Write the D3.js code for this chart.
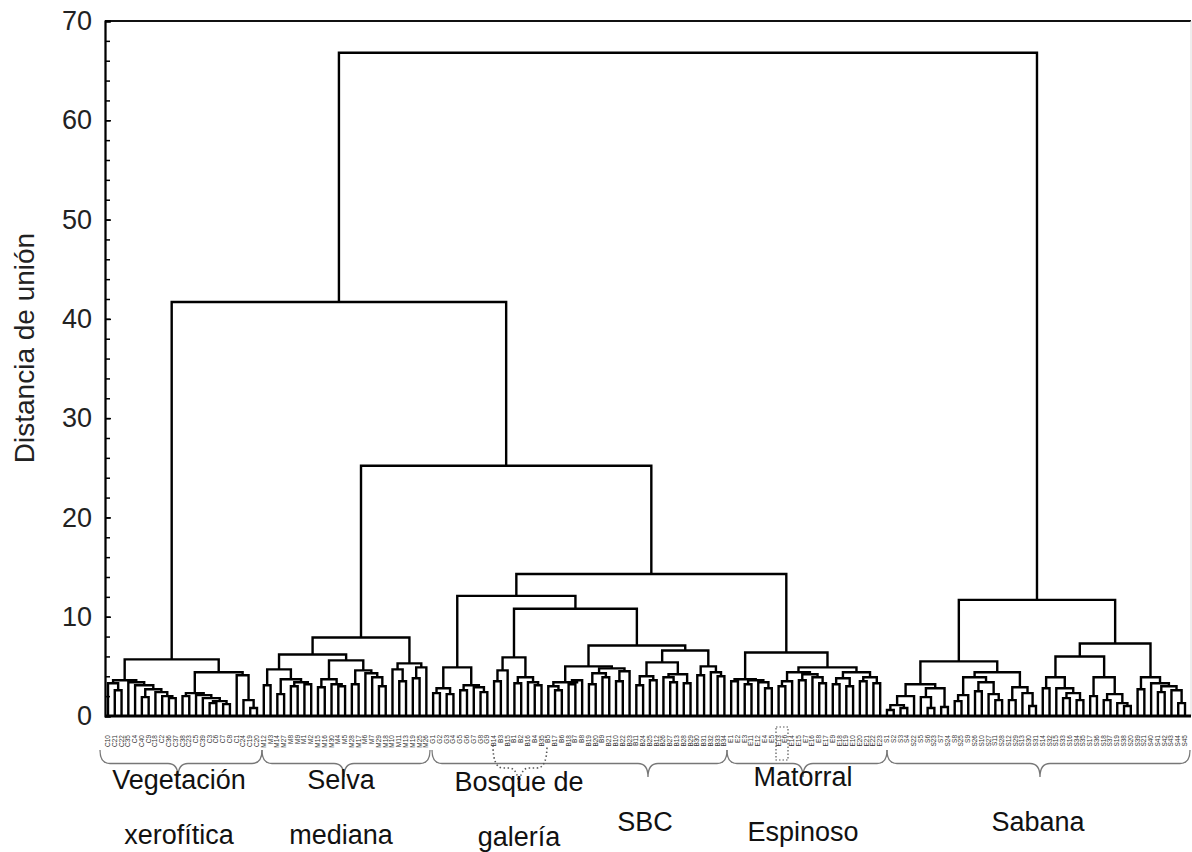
<!DOCTYPE html>
<html>
<head>
<meta charset="utf-8">
<script src="https://cdn.jsdelivr.net/npm/d3@7"></script>
<style>
  body { margin: 0; background: #fff; }
  svg { display: block; }
  text { font-family: "Liberation Sans", Arial, sans-serif; }
</style>
</head>
<body>
<svg id="chart" width="1192" height="852"></svg>
<script>
// Cluster trees: [joinDistance, left, right]; 0 marks a single site.
const vegetacionXerofitica = [5.7,
  [3.6, [3.3, 0, [2.6, 0, 0]],
        [3.4, 0, [3.1, 0, [2.7, [1.9, 0, 0], [2.4, 0, [2.0, 0, [1.8, 0, 0]]]]]]],
  [4.4, [2.3, [2.0, 0, 0], [2.1, 0, [1.8, 0, [1.5, [1.3, 0, 0], [1.2, 0, 0]]]]],
        [4.1, 0, [1.6, 0, [0.8, 0, 0]]]]];

const selvaMediana = [7.9,
  [6.2, [4.7, [3.1, 0, 0], [3.7, [2.2, 0, 0], [3.4, [3.0, 0, 0], [3.2, 0, 0]]]],
        [5.6, [3.7, [2.9, 0, 0], [3.2, 0, [3.0, 0, 0]]],
              [4.6, [3.2, 0, 0], [4.3, 0, [3.9, 0, [3.0, 0, 0]]]]]],
  [5.3, [4.7, 0, [3.5, 0, 0]], [4.9, [3.8, 0, 0], 0]]];

const bosqueGaleria = [4.9,
  [2.8, [2.3, 0, 0], [2.2, 0, 0]],
  [3.1, [2.6, 0, 0], [2.9, 0, [2.4, 0, 0]]]];

const sbcA = [5.9,
  [4.6, [3.5, 0, 0], 0],
  [3.9, [3.3, 0, 0], [3.4, 0, [3.1, 0, 0]]]];

const sbcB = [7.1,
  [5.0, [3.4, [3.0, 0, [2.6, 0, 0]], [3.6, [3.2, 0, 0], 0]],
        [4.8, [4.3, [3.2, 0, 0], [3.9, 0, 0]], [4.5, [3.5, 0, 0], 0]]],
  [6.6, [5.4, [4.0, [3.1, 0, 0], [3.6, 0, 0]], [4.2, [3.9, 0, [3.4, 0, 0]], [3.3, 0, 0]]],
        [5.0, [4.1, 0, 0], [4.4, 0, [4.0, 0, 0]]]]];

const matorralEspinoso = [6.4,
  [3.7, [3.5, 0, 0], [3.6, [3.2, 0, 0], [3.4, 0, [2.8, 0, 0]]]],
  [4.9, [4.4, [3.5, [3.0, 0, 0], 0], [4.2, [3.6, 0, 0], [3.9, 0, [3.3, 0, 0]]]],
        [4.4, [3.8, [3.2, 0, 0], [3.0, 0, 0]], [3.9, [3.5, 0, 0], [3.3, 0, 0]]]]];

const sabana = [11.7,
  [5.5, [3.2, [2.0, [1.1, [0.6, 0, 0], [0.8, 0, 0]], 0], [2.8, [1.9, 0, [0.8, 0, 0]], [0.9, 0, 0]]],
        [4.4, [3.9, [2.1, [1.5, 0, 0], 0], [3.4, [2.5, 0, 0], [2.2, 0, [1.6, 0, 0]]]],
              [2.9, [1.6, 0, 0], [2.3, 0, [1.0, 0, 0]]]]],
  [7.3, [6.0, [3.9, [2.8, 0, 0], [2.8, 0, [2.3, [1.8, 0, 0], [1.6, 0, 0]]]],
              [3.9, [2.0, 0, 0], [2.2, [1.6, 0, 0], [1.3, 0, [1.0, 0, 0]]]]],
        [3.9, [2.7, 0, 0], [3.3, 0, [3.0, [2.4, 0, 0], [2.6, 0, [1.3, 0, 0]]]]]]];

// Upper joins between vegetation groups
const upperJoins = [66.8,
  [41.7, "vegetacionXerofitica",
    [25.2, "selvaMediana",
      [14.3, [12.1, "bosqueGaleria", [10.8, "sbcA", "sbcB"]], "matorralEspinoso"]]],
  "sabana"];

// Site codes, in dendrogram order, per group
const vegLabels = ["C10","C21","C22","C35","C4","C40","C9","C18","C2","C36","C37","C38","C23","C5","C39","C3","C6","C7","C8","C1","C24","C19","C20"];
const selvaLabels = ["M12","M3","M14","M27","M8","M9","M1","M2","M15","M16","M30","M4","M5","M28","M17","M6","M7","M29","M18","M10","M11","M13","M19","M25","M26"];
const bosqueLabels = ["G1","G2","G3","G4","G5","G6","G7","G8","G9"];
const sbcLabels = ["B14","B3","B15","B1","B2","B16","B4","B35",
  "B5","B17","B6","B18","B7","B8","B19","B20","B9","B21","B10","B22","B23","B11","B24","B25","B12","B26","B27","B13","B28","B29","B30","B31","B32","B33","B34"];
const matorralLabels = ["E1","E2","E3","E11","E12","E4","E5","E13","E6","E14","E15","E7","E16","E8","E17","E9","E18","E19","E10","E20","E21","E22","E23"];
const sabanaLabels = ["S1","S2","S3","S4","S22","S5","S6","S23","S7","S24","S8","S25","S9","S26","S10","S27","S11","S28","S12","S29","S13","S30","S31",
  "S14","S32","S15","S33","S16","S34","S35","S17","S36","S18","S37","S19","S38","S20","S39","S21","S40","S41","S42","S43","S44","S45"];
const siteLabels = [].concat(vegLabels, selvaLabels, bosqueLabels, sbcLabels, matorralLabels, sabanaLabels);

const yTicks = [0, 10, 20, 30, 40, 50, 60, 70];
const yMinorTicks = d3.range(0, 71, 2);

const groupNames = [
  { lines: ["Vegetación", "xerofítica"], cx: 179, y: 789 },
  { lines: ["Selva", "mediana"], cx: 341, y: 789 },
  { lines: ["Bosque de", "galería"], cx: 519, y: 791 },
  { lines: ["SBC"], cx: 645, y: 831 },
  { lines: ["Matorral", "Espinoso"], cx: 803, y: 786 },
  { lines: ["Sabana"], cx: 1038, y: 831 }
];

const braces = [
  { x1: 100, x2: 262, tip: 178 },
  { x1: 262, x2: 430, tip: 344 },
  { x1: 432, x2: 727, tip: 648 },
  { x1: 727, x2: 887, tip: 803 },
  { x1: 887, x2: 1190, tip: 1040 }
];

const subtrees = { vegetacionXerofitica, selvaMediana, bosqueGaleria, sbcA, sbcB, matorralEspinoso, sabana };

function build(node) {
  if (typeof node === "string") return build(subtrees[node]);
  if (node === 0) return { h: 0 };
  return { h: node[0], children: [build(node[1]), build(node[2])] };
}

const svg = d3.select("#chart");
const plotLeft = 105, plotRight = 1191, plotTop = 21, plotBase = 716;

const y = d3.scaleLinear().domain([0, 70]).range([plotBase, plotTop]);

const root = d3.hierarchy(build(upperJoins));
const leaves = root.leaves();
const x = d3.scalePoint().domain(d3.range(leaves.length)).range([108, 1185]);

leaves.forEach((d, i) => { d.x = x(i); d.label = siteLabels[i] || ""; });
root.eachAfter(d => {
  d.y = y(d.data.h);
  if (d.children) d.x = (d.children[0].x + d.children[1].x) / 2;
});

// Frame
svg.append("line").attr("x1", plotLeft).attr("x2", plotRight).attr("y1", plotTop).attr("y2", plotTop)
  .attr("stroke", "#111").attr("stroke-width", 2);
svg.append("line").attr("x1", plotRight).attr("x2", plotRight).attr("y1", plotTop).attr("y2", plotBase)
  .attr("stroke", "#ddd").attr("stroke-width", 1);

// Dendrogram links
const links = svg.append("g").attr("fill", "none").attr("stroke", "#000")
  .attr("stroke-width", 2.4).attr("stroke-linejoin", "miter");
root.descendants().filter(d => d.children).forEach(d => {
  const [a, b] = d.children;
  links.append("path")
    .attr("d", `M${a.x},${a.y}V${d.y}H${b.x}V${b.y}`);
});

// Baseline
svg.append("line").attr("x1", plotLeft).attr("x2", plotRight).attr("y1", plotBase).attr("y2", plotBase)
  .attr("stroke", "#000").attr("stroke-width", 3);

// Y axis with inward ticks
const axisG = svg.append("g").attr("transform", `translate(${plotLeft},0)`);
axisG.call(d3.axisLeft(y).tickValues(yMinorTicks).tickSize(-5).tickFormat(""))
  .call(g => g.selectAll("path,line").attr("stroke", "#000").attr("stroke-width", 1.5));
const majorG = svg.append("g").attr("transform", `translate(${plotLeft},0)`);
majorG.call(d3.axisLeft(y).tickValues(yTicks).tickSize(-6).tickPadding(13).tickFormat(d3.format("d")))
  .call(g => g.select(".domain").attr("stroke", "#000").attr("stroke-width", 2))
  .call(g => g.selectAll(".tick line").attr("stroke", "#000").attr("stroke-width", 1.5))
  .call(g => g.selectAll(".tick text").attr("fill", "#222").attr("font-size", 27)
    .attr("font-family", "'Liberation Sans', Arial, sans-serif"));

svg.append("text")
  .attr("transform", "translate(34,348) rotate(-90)")
  .attr("text-anchor", "middle")
  .attr("font-size", 28).attr("fill", "#222")
  .text("Distancia de unión");

// Site codes under each leaf
svg.append("g").selectAll("text").data(leaves).join("text")
  .attr("transform", d => `translate(${d.x + 2},735) rotate(-90)`)
  .attr("text-anchor", "end")
  .attr("font-size", 6.5).attr("fill", "#333")
  .text(d => d.label);

// Group braces
function bracePath(x1, x2, xm, y0, depth) {
  const ym = y0 + depth / 2, yt = y0 + depth, q = 10;
  return `M${x1},${y0}Q${x1},${ym} ${x1 + q},${ym}L${xm - q},${ym}Q${xm},${ym} ${xm},${yt}` +
         `Q${xm},${ym} ${xm + q},${ym}L${x2 - q},${ym}Q${x2},${ym} ${x2},${y0}`;
}
svg.append("g").selectAll("path").data(braces).join("path")
  .attr("d", d => bracePath(d.x1, d.x2, d.tip, 750, 27))
  .attr("fill", "none").attr("stroke", "#777").attr("stroke-width", 1.3);

// Dotted brace and marker for the gallery forest sites
svg.append("path").attr("d", bracePath(493, 547, 519, 745, 46))
  .attr("fill", "none").attr("stroke", "#555").attr("stroke-width", 1.6)
  .attr("stroke-dasharray", "1.5,2.5");
svg.append("rect").attr("x", 776).attr("y", 727).attr("width", 12).attr("height", 33)
  .attr("fill", "none").attr("stroke", "#555").attr("stroke-width", 1.2)
  .attr("stroke-dasharray", "1.5,2");

// Group names
const names = svg.append("g").attr("font-size", 27).attr("fill", "#111").attr("text-anchor", "middle");
groupNames.forEach(g => {
  g.lines.forEach((t, i) => {
    names.append("text").attr("x", g.cx).attr("y", g.y + i * 55).text(t);
  });
});
</script>
</body>
</html>
